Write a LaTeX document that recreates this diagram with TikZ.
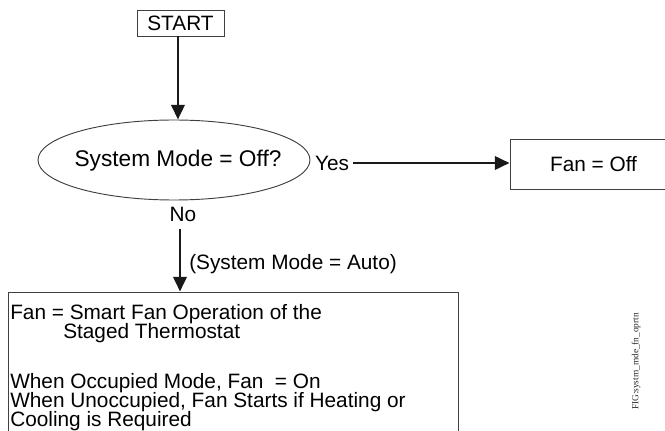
\documentclass[tikz,border=0pt]{standalone}
\usepackage{fontspec}
\setmainfont{Liberation Sans}
\newfontfamily\tagfont{Liberation Serif}
\usetikzlibrary{shapes.geometric,arrows.meta}
\setlength{\lineskiplimit}{-20pt}
\begin{document}
\begin{tikzpicture}[x=0.75pt,y=-0.75pt,
  frame/.style={draw=black!75, line width=0.7pt, inner sep=0pt},
  txt/.style={font=\fontsize{15.6pt}{14.25pt}\selectfont, inner sep=0pt, text=black},
  flow/.style={line width=1.9pt, draw=black!90, -{Triangle[length=11pt,width=10pt]}},
]
\useasboundingbox (0,0) rectangle (665,431);
\clip (0,0) rectangle (665,431);

% start terminal
\node[frame, txt, minimum width=65.25pt, minimum height=19.5pt] (start) at (180.5,23) {START};

% decision
\node[frame, ellipse, minimum width=204pt, minimum height=60pt] (dec) at (174,160) {};
\node[inner sep=0pt, anchor=base, font=\fontsize{17pt}{18pt}\selectfont, text=black]
      (dectext) at (178,167) {System Mode = Off?};

% fan off result
\node[frame, minimum width=142.5pt, minimum height=37.5pt] (fanoff) at (605,164) {};
\node[txt] (fanofftext) at (593.5,164) {Fan = Off};

% branch labels
\node[txt] (yes) at (332,163) {Yes};
\node[txt] (no) at (183,214) {No};
\node[txt, anchor=base west] (auto) at (189,270) {(System Mode = Auto)};

% smart fan box
\node[frame, minimum width=337.5pt, minimum height=141pt] (smart) at (233,386) {};
\node[txt, anchor=north west, align=left] (smarttext) at (10,304) {%
Fan = Smart Fan Operation of the\\
\hspace*{39.75pt}Staged Thermostat\\[23.25pt]
When Occupied Mode, Fan~ = On\\
When Unoccupied, Fan Starts if Heating or\\
Cooling is Required};

% figure tag
\node[rotate=90, inner sep=0pt, text=black!85, font=\tagfont\fontsize{7pt}{8pt}\selectfont] (tag) at (636,361.5) {FIG:systm\_mde\_fn\_oprtn};

% connectors
\draw[flow] ([xshift=-1.9pt]start.south) -- ([xshift=-1.9pt]start.south |- dec.north);
\draw[flow] ([shift={(4,0)}]yes.east) -- (yes -| fanoff.west);
\draw[flow] ([shift={(-3,7)}]no.south) -- ([xshift=-2.25pt]no.south |- smart.north);
\end{tikzpicture}
\end{document}
